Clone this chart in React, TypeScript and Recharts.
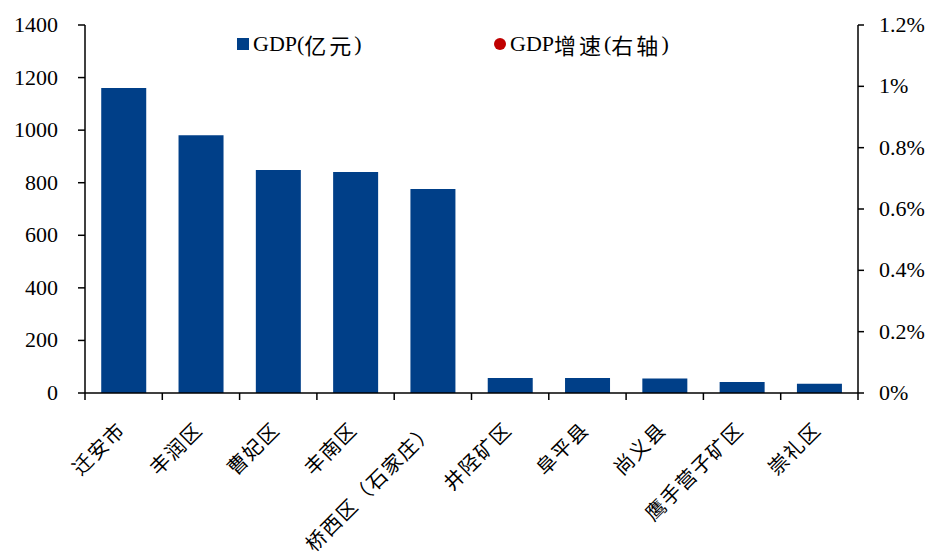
import React from 'react';
import { ComposedChart, Bar, Line, XAxis, YAxis } from 'recharts';

// 各区县 GDP(亿元) 与增速(右轴，图中无可见数据点)
const districts = [
  '迁安市',
  '丰润区',
  '曹妃区',
  '丰南区',
  '桥西区（石家庄）',
  '井陉矿区',
  '阜平县',
  '尚义县',
  '鹰手营子矿区',
  '崇礼区',
];
const gdpValues = [1160, 981, 848, 841, 776, 57, 57, 55, 42, 35];
const growthValues: (number | null)[] = [null, null, null, null, null, null, null, null, null, null];

const leftTicks = [0, 200, 400, 600, 800, 1000, 1200, 1400];
const rightTicks = [0, 0.002, 0.004, 0.006, 0.008, 0.01, 0.012];
const rightTickLabels = ['0%', '0.2%', '0.4%', '0.6%', '0.8%', '1%', '1.2%'];

const data = districts.map((name, i) => ({
  name,
  gdp: gdpValues[i],
  growth: growthValues[i],
}));

const W = 929;
const H = 559;
const LEFT_AXIS_W = 85;
const RIGHT_AXIS_W = 71;
const BAND = (W - LEFT_AXIS_W - RIGHT_AXIS_W) / districts.length;

const FONT = '"Liberation Serif", "Times New Roman", serif';
const CJK = '"Noto Sans CJK SC", sans-serif';
const BLUE = '#003F88';
const RED = '#C00000';

const LeftTick = (props: any) => {
  const { x, y, payload } = props;
  return (
    <text x={x} y={y} dy={7} textAnchor="end" fontSize={22} style={{ fontFamily: FONT }} fill="#000">
      {payload.value}
    </text>
  );
};

const RightTick = (props: any) => {
  const { x, y, payload } = props;
  const label = rightTickLabels[rightTicks.indexOf(payload.value)] ?? '';
  return (
    <text x={x} y={y} dy={7} textAnchor="start" fontSize={22} style={{ fontFamily: FONT }} fill="#000">
      {label}
    </text>
  );
};

const CategoryTick = (props: any) => {
  const { x, y, payload, index } = props;
  return (
    <g>
      <line x1={x - BAND / 2} y1={y - 8} x2={x - BAND / 2} y2={y - 1} stroke="#000" strokeWidth={1.5} />
      {index === districts.length - 1 && (
        <line x1={x + BAND / 2} y1={y - 8} x2={x + BAND / 2} y2={y - 1} stroke="#000" strokeWidth={1.5} />
      )}
      <text
        transform={`translate(${x - 10},${y + 17}) rotate(-45)`}
        textAnchor="end"
        dominantBaseline="hanging"
        fontSize={20}
        style={{ fontFamily: CJK, letterSpacing: 1.5 }}
        fill="#000"
      >
        {payload.value}
      </text>
    </g>
  );
};

const cjkSpan = (s: string) => <span style={{ fontFamily: CJK, letterSpacing: 3 }}>{s}</span>;

const ChartLegend = () => (
  <div
    style={{
      position: 'absolute',
      top: 28,
      left: 237,
      fontFamily: FONT,
      fontSize: 22,
      color: '#000',
      pointerEvents: 'none',
    }}
  >
    <div style={{ position: 'absolute', left: 0, top: 0, display: 'flex', alignItems: 'center', whiteSpace: 'nowrap' }}>
      <span style={{ display: 'inline-block', width: 12, height: 12, background: BLUE, marginRight: 4 }} />
      GDP({cjkSpan('亿元')})
    </div>
    <div style={{ position: 'absolute', left: 257, top: 0, display: 'flex', alignItems: 'center', whiteSpace: 'nowrap' }}>
      <span style={{ display: 'inline-block', width: 12, height: 12, borderRadius: 6, background: RED, marginRight: 4 }} />
      GDP{cjkSpan('增速')}({cjkSpan('右轴')})
    </div>
  </div>
);

export default function App() {
  return (
    <div style={{ position: 'absolute', left: 0, top: 0, width: W, height: H, background: '#fff' }}>
      <ComposedChart
        width={W}
        height={H}
        data={data}
        margin={{ top: 25, right: 0, left: 0, bottom: 0 }}
        barCategoryGap="21%"
      >
        <XAxis
          dataKey="name"
          xAxisId="x"
          interval={0}
          height={166}
          tickLine={false}
          axisLine={{ stroke: '#000', strokeWidth: 1.5 }}
          tick={<CategoryTick />}
        />
        <YAxis
          yAxisId="left"
          type="number"
          domain={[0, 1400]}
          ticks={leftTicks}
          width={LEFT_AXIS_W}
          tickSize={7}
          tickMargin={20}
          axisLine={{ stroke: '#000', strokeWidth: 1.5 }}
          tickLine={{ stroke: '#000', strokeWidth: 1.5 }}
          tick={<LeftTick />}
        />
        <YAxis
          yAxisId="right"
          orientation="right"
          type="number"
          domain={[0, 0.012]}
          allowDataOverflow
          ticks={rightTicks}
          interval={0}
          width={RIGHT_AXIS_W}
          tickSize={6}
          tickMargin={15}
          axisLine={{ stroke: '#000', strokeWidth: 1.5 }}
          tickLine={{ stroke: '#000', strokeWidth: 1.5 }}
          tick={<RightTick />}
        />
        <Bar xAxisId="x" yAxisId="left" dataKey="gdp" name="GDP(亿元)" fill={BLUE} isAnimationActive={false} />
        <Line
          xAxisId="x"
          yAxisId="right"
          dataKey="growth"
          name="GDP增速(右轴)"
          stroke="none"
          dot={{ r: 5, fill: RED, stroke: RED }}
          legendType="circle"
          isAnimationActive={false}
        />
      </ComposedChart>
      <ChartLegend />
    </div>
  );
}
